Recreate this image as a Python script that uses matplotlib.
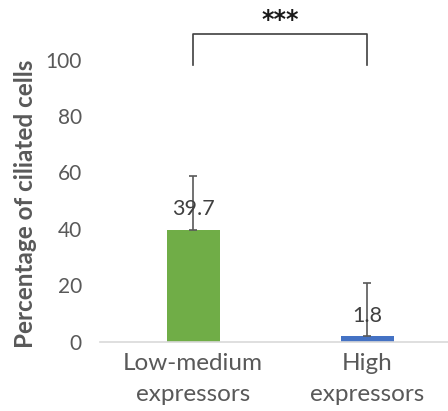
import matplotlib
matplotlib.use("Agg")
import matplotlib.pyplot as plt

categories = ["Low-medium\nexpressors", "High\nexpressors"]
values = [39.7, 1.8]
errors = [19.1, 18.8]
colors = ["#70AD47", "#4472C4"]
yticks = [0, 20, 40, 60, 80, 100]
sig_label = "***"
sig_height = 109
sig_drop = 11

plt.rcParams['font.family'] = ['Lato', 'DejaVu Sans']

fig = plt.figure(figsize=(4.48, 4.11), dpi=100)
ax = fig.add_axes([100/448, 69.5/411, 348/448, 338.4/411])

x = list(range(len(categories)))
ax.bar(x, values, width=0.305, color=colors, zorder=2)
ax.errorbar(x, values, yerr=[[0]*len(errors), errors], fmt='none',
            ecolor="#595959", elinewidth=1.2, capsize=3, capthick=1.2, zorder=3)
for xi, v in zip(x, values):
    ax.annotate(f"{v}", (xi, v), xytext=(0, 10.5), textcoords='offset points',
                ha='center', va='baseline', fontsize=15.5, color="#404040", zorder=4)

ax.set_xlim(-0.535, 1.465)
ax.set_ylim(0, 120)
ax.set_yticks(yticks)
ax.set_yticklabels([str(t) for t in yticks])
ax.set_xticks(x)
ax.set_xticklabels(categories, fontsize=17.5, color="#595959", linespacing=1.55)
ax.tick_params(axis='y', length=0, labelsize=15, labelcolor="#595959", pad=13)
ax.tick_params(axis='x', length=0, pad=8.5)
for s in ['top', 'right', 'left']:
    ax.spines[s].set_visible(False)
ax.spines['bottom'].set_color("#D9D9D9")
ax.spines['bottom'].set_linewidth(1.2)

ax.set_ylabel("Percentage of ciliated cells", fontsize=17.5, fontweight='bold',
              color="#595959", va='center')
ax.yaxis.set_label_coords(-0.2155, 0.407)

# significance bracket
ax.plot([x[0], x[0], x[1], x[1]],
        [sig_height - sig_drop, sig_height, sig_height, sig_height - sig_drop],
        color="#404040", lw=1.2, clip_on=False, zorder=5)
ax.text((x[0] + x[1]) / 2, 114, sig_label, ha='center', va='center',
        fontsize=17, fontweight='bold', color="#1a1a1a", family='DejaVu Sans')

fig.savefig("out.png", dpi=100)
